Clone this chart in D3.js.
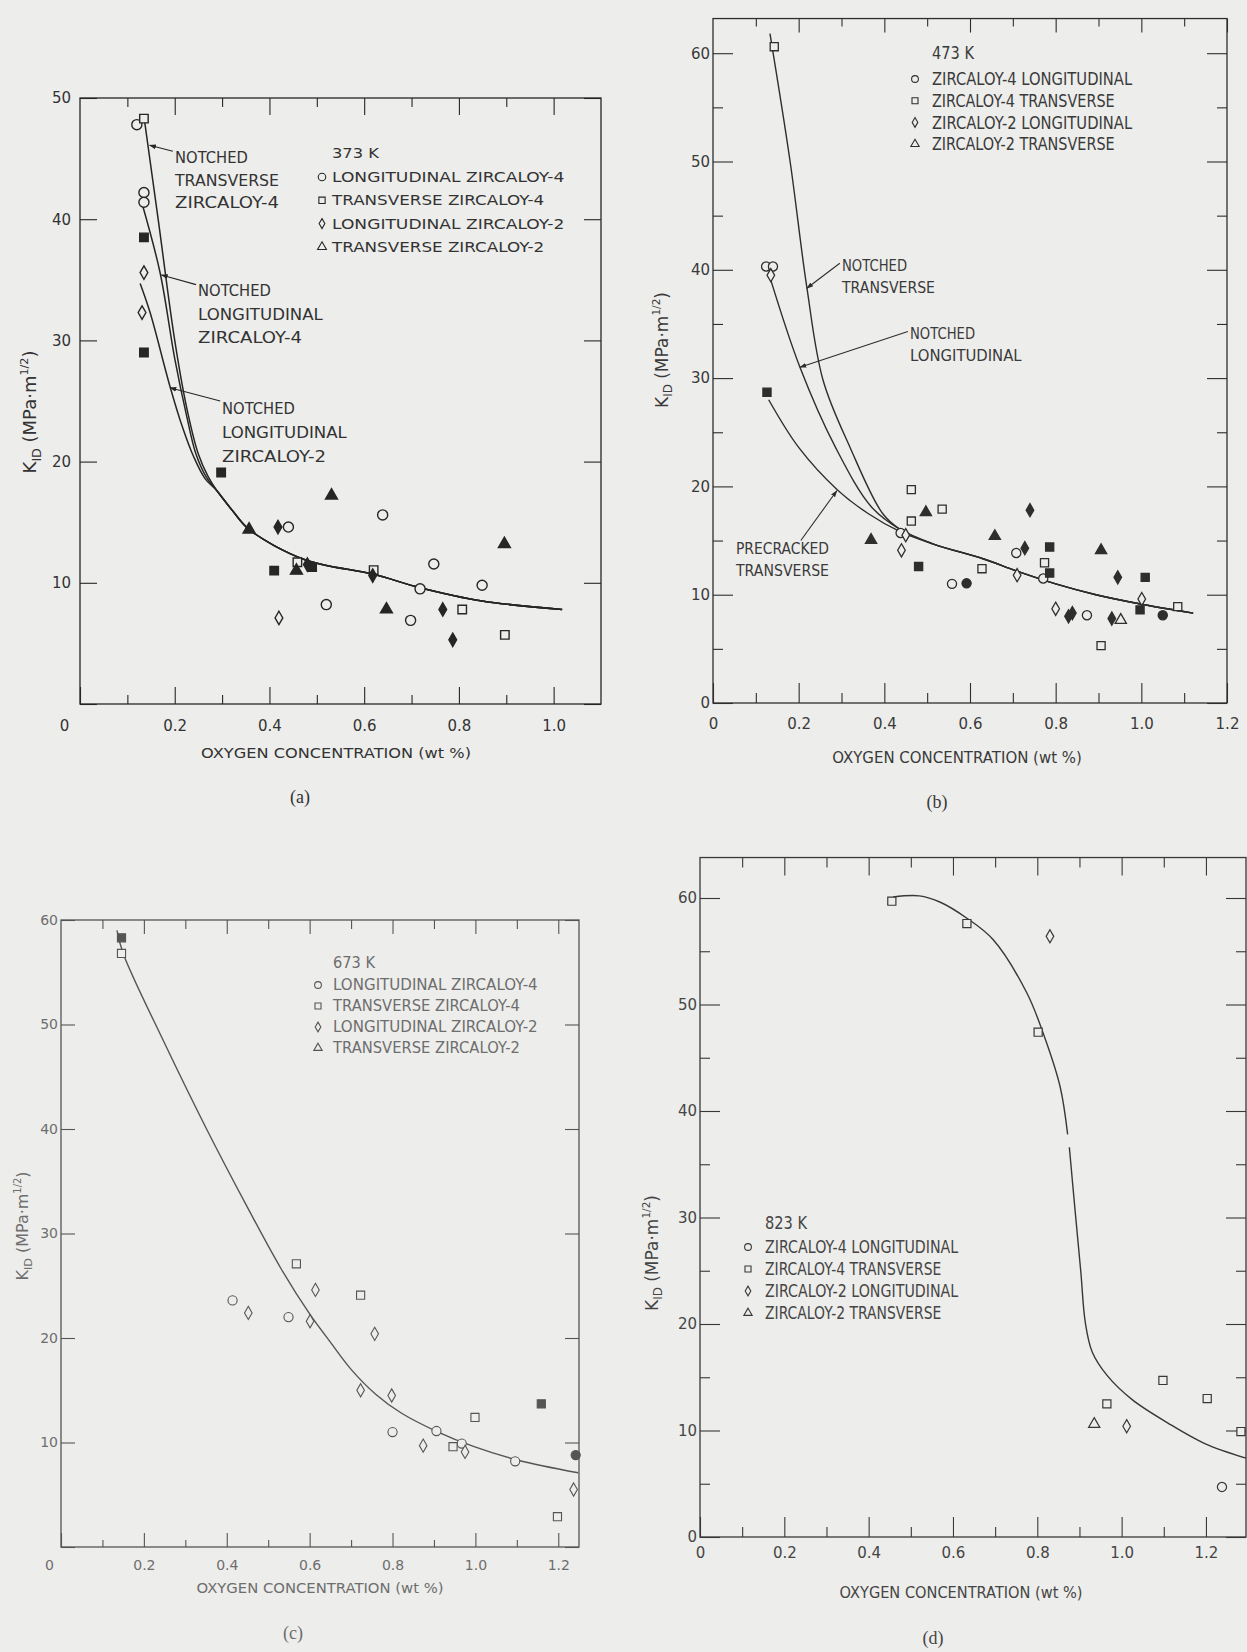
<!DOCTYPE html>
<html>
<head>
<meta charset="utf-8">
<script src="https://cdn.jsdelivr.net/npm/d3@7"></script>
<style>
  body { margin: 0; background: #ededeb; }
  svg { display: block; }
</style>
</head>
<body>
<svg id="fig"></svg>
<script>
// ---------- data (x = oxygen wt%, y = K_ID MPa m^1/2, third value 1 = solid symbol) ----------

// (a) 373 K
const a_longZr4  = [[0.12,47.8,0],[0.135,42.2,0],[0.135,41.4,0],[0.44,14.6,0],[0.52,8.2,0],[0.639,15.6,0],[0.698,6.9,0],[0.718,9.5,0],[0.747,11.55,0],[0.849,9.8,0]];
const a_transZr4 = [[0.135,48.3,0],[0.135,38.5,1],[0.135,29.0,1],[0.298,19.1,1],[0.41,11.0,1],[0.459,11.7,0],[0.49,11.3,1],[0.62,11.05,0],[0.807,7.8,0],[0.897,5.7,0]];
const a_longZr2  = [[0.135,35.6,0],[0.131,32.3,0],[0.418,14.6,1],[0.42,7.1,0],[0.48,11.5,1],[0.618,10.6,1],[0.766,7.8,1],[0.787,5.3,1]];
const a_transZr2 = [[0.357,14.4,1],[0.457,11.0,1],[0.531,17.2,1],[0.647,7.8,1],[0.896,13.2,1]];
const a_fitNotchTransZr4 = [[0.136,48.2],[0.165,40.0],[0.2,30.0],[0.225,24.5],[0.25,20.6],[0.27,18.8]];
const a_fitNotchLongZr4  = [[0.131,41.3],[0.169,35.6],[0.2,28.5],[0.225,23.8],[0.245,20.6],[0.267,18.7]];
const a_fitNotchLongZr2  = [[0.127,34.7],[0.148,32.3],[0.19,26.2],[0.215,23.0],[0.24,20.4],[0.264,18.6]];
const a_fitTail = [[0.289,17.6],[0.323,15.9],[0.357,14.4],[0.475,11.9],[0.62,10.7],[0.718,9.6],[0.849,8.5],[1.018,7.8]];

// (b) 473 K
const b_longZr4  = [[0.124,40.3,0],[0.14,40.3,0],[0.438,15.7,0],[0.558,11.0,0],[0.592,11.05,1],[0.708,13.85,0],[0.771,11.5,0],[0.873,8.1,0],[1.05,8.1,1]];
const b_transZr4 = [[0.143,60.6,0],[0.126,28.7,1],[0.463,19.7,0],[0.463,16.8,0],[0.535,17.9,0],[0.48,12.6,1],[0.628,12.4,0],[0.774,12.95,0],[0.786,14.4,1],[0.786,12.0,1],[0.906,5.3,0],[0.997,8.6,1],[1.009,11.6,1],[1.085,8.9,0]];
const b_longZr2  = [[0.135,39.5,0],[0.45,15.5,0],[0.44,14.1,0],[0.728,14.3,1],[0.74,17.8,1],[0.71,11.8,0],[0.8,8.7,0],[0.83,8.0,1],[0.839,8.3,1],[0.931,7.8,1],[0.945,11.6,1],[1.001,9.6,0]];
const b_transZr2 = [[0.369,15.05,1],[0.497,17.6,1],[0.658,15.4,1],[0.906,14.1,1],[0.952,7.65,0]];
const b_fitNotchTrans = [[0.133,61.8],[0.18,50.0],[0.219,38.4],[0.257,29.8],[0.32,23.6],[0.396,17.5],[0.438,16.0]];
const b_fitNotchLong  = [[0.133,39.3],[0.203,31.0],[0.286,23.6],[0.37,18.1],[0.438,16.0]];
const b_fitPrecracked = [[0.13,28.0],[0.2,23.6],[0.29,19.7],[0.362,17.5],[0.438,15.8],[0.513,14.7],[0.632,13.3],[0.708,12.2],[0.8,11.0],[0.894,10.0],[1.004,9.1],[1.121,8.3]];

// (c) 673 K
const c_longZr4  = [[0.414,23.6,0],[0.549,22.0,0],[0.8,11.0,0],[0.906,11.1,0],[0.967,9.9,0],[1.096,8.2,0],[1.242,8.8,1]];
const c_transZr4 = [[0.146,58.3,1],[0.146,56.8,0],[0.568,27.1,0],[0.723,24.1,0],[0.946,9.6,0],[0.999,12.4,0],[1.159,13.7,1],[1.198,2.9,0]];
const c_longZr2  = [[0.452,22.4,0],[0.614,24.6,0],[0.601,21.6,0],[0.757,20.4,0],[0.723,15.0,0],[0.798,14.5,0],[0.874,9.7,0],[0.975,9.1,0],[1.237,5.5,0]];
const c_transZr2 = [];
const c_fit = [[0.135,59.0],[0.15,56.8],[0.25,48.2],[0.35,40.1],[0.45,32.5],[0.53,26.7],[0.6,22.3],[0.65,19.6],[0.7,17.0],[0.76,14.6],[0.822,12.8],[0.91,11.0],[0.997,9.6],[1.103,8.3],[1.248,7.1]];

// (d) 823 K
const d_longZr4  = [[1.238,4.7,0]];
const d_transZr4 = [[0.455,59.7,0],[0.633,57.6,0],[0.802,47.4,0],[0.965,12.5,0],[1.098,14.7,0],[1.203,13.0,0],[1.283,9.9,0]];
const d_longZr2  = [[0.83,56.4,0],[1.012,10.4,0]];
const d_transZr2 = [[0.935,10.6,0]];
const d_fitUpper = [[0.458,60.1],[0.52,60.2],[0.57,59.6],[0.633,58.1],[0.695,56.1],[0.775,51.1],[0.814,47.3],[0.854,42.3],[0.872,37.8]];
const d_fitLower = [[0.876,36.6],[0.89,30.5],[0.903,25.0],[0.914,20.1],[0.93,17.4],[0.965,15.2],[1.025,12.9],[1.11,10.7],[1.196,8.8],[1.295,7.4]];

// text
const legendByOrientation = ['LONGITUDINAL ZIRCALOY-4', 'TRANSVERSE ZIRCALOY-4', 'LONGITUDINAL ZIRCALOY-2', 'TRANSVERSE ZIRCALOY-2'];
const legendByAlloy = ['ZIRCALOY-4 LONGITUDINAL', 'ZIRCALOY-4 TRANSVERSE', 'ZIRCALOY-2 LONGITUDINAL', 'ZIRCALOY-2 TRANSVERSE'];
const xTitleText = 'OXYGEN CONCENTRATION (wt %)';

// ---------- drawing ----------
const BG = '#ededeb';
const FONT = 'DejaVu Sans, Liberation Sans, sans-serif';
const SHAPES = ['circle', 'square', 'diamond', 'triangle'];
const SYMBOL = {circle: d3.symbolCircle, square: d3.symbolSquare, diamond: d3.symbolDiamond, triangle: d3.symbolTriangle};

const svg = d3.select('#fig').attr('width', 1247).attr('height', 1652);
svg.append('rect').attr('width', 1247).attr('height', 1652).attr('fill', BG);

const defs = svg.append('defs');

function addText(parent, str, x, y, o) {
    const t = parent.append('text')
        .attr('x', x).attr('y', y)
        .attr('font-family', o.family || FONT)
        .attr('font-size', o.size)
        .attr('fill', o.fill)
        .attr('text-anchor', o.anchor || 'start')
        .text(str);
    if (o.cw) t.attr('textLength', o.cw * str.length).attr('lengthAdjust', 'spacingAndGlyphs');
    return t;
}

class KidPanel {
    constructor (config, series, fits) {
        this.config = config;
        this.series = series;
        this.fits = fits;
        this.init();
        this.render();
    }

    init() {
        let self = this;
        const c = self.config;
        self.inner_height = c.ymax * c.yUnit;
        self.top = c.bottom - self.inner_height;

        self.chart = svg.append('g')
            .attr('transform', `translate(${c.left}, ${self.top})`);

        self.xscale = d3.scaleLinear().domain([0, c.xmax]).range([0, c.width]);
        self.yscale = d3.scaleLinear().domain([0, c.ymax]).range([self.inner_height, 0]);

        const id = 'arrow-' + c.id;
        defs.append('marker')
            .attr('id', id).attr('viewBox', '0 0 10 10')
            .attr('refX', 9).attr('refY', 5)
            .attr('markerWidth', 7).attr('markerHeight', 7)
            .attr('markerUnits', 'userSpaceOnUse')
            .attr('orient', 'auto')
            .append('path').attr('d', 'M0,1.5 L10,5 L0,8.5 Z').attr('fill', c.ink);
        self.arrowId = id;
    }

    render() {
        let self = this;
        const c = self.config;
        const x = self.xscale, y = self.yscale;

        const xMajor = d3.range(0, c.xmax + 1e-6, 0.2);
        const xMinor = d3.range(0.1, c.xmax - 0.02, 0.2);
        const yMajor = d3.range(0, c.ymax + 1e-6, 10);
        const yMinor = c.yMinor ? d3.range(5, c.ymax - 0.5, 10) : [];
        const fmtX = d => d === 0 ? '0' : d3.format('.1f')(d);
        const fmtY = d => (d === 0 && !c.yZero) ? '' : d3.format('d')(d);

        const style = g => {
            g.select('.domain').remove();
            g.attr('color', c.ink).attr('font-family', FONT).attr('font-size', c.tickFont);
            g.selectAll('line').attr('stroke-width', 1.1);
            g.selectAll('text').attr('fill', c.txt);
        };

        // bottom
        self.chart.append('g')
            .attr('transform', `translate(0, ${self.inner_height})`)
            .call(d3.axisBottom(x).tickValues(xMajor).tickSize(-c.majLen).tickPadding(c.xPad).tickFormat(fmtX))
            .call(style)
            .call(g => g.selectAll('.tick text').filter(d => d === 0).attr('dx', c.zeroDx));
        self.chart.append('g')
            .attr('transform', `translate(0, ${self.inner_height})`)
            .call(d3.axisBottom(x).tickValues(xMinor).tickSize(-c.minLen).tickFormat(''))
            .call(style);
        // top
        self.chart.append('g')
            .call(d3.axisTop(x).tickValues(xMajor.filter(d => d > 0)).tickSize(-c.topMaj).tickFormat(''))
            .call(style);
        self.chart.append('g')
            .call(d3.axisTop(x).tickValues(xMinor).tickSize(-c.topMin).tickFormat(''))
            .call(style);
        // left
        self.chart.append('g')
            .call(d3.axisLeft(y).tickValues(yMajor).tickSize(-c.majLen).tickPadding(c.yPad).tickFormat(fmtY))
            .call(style);
        self.chart.append('g')
            .call(d3.axisLeft(y).tickValues(yMinor).tickSize(-c.minLen).tickFormat(''))
            .call(style);
        // right
        self.chart.append('g')
            .attr('transform', `translate(${c.width}, 0)`)
            .call(d3.axisRight(y).tickValues(yMajor).tickSize(-c.majLen).tickFormat(''))
            .call(style);
        self.chart.append('g')
            .attr('transform', `translate(${c.width}, 0)`)
            .call(d3.axisRight(y).tickValues(yMinor).tickSize(-c.minLen).tickFormat(''))
            .call(style);

        self.chart.append('rect')
            .attr('width', c.width).attr('height', self.inner_height)
            .attr('fill', 'none').attr('stroke', c.ink).attr('stroke-width', 1.3);

        // fitted curves
        const line = d3.line()
            .x(d => x(d[0]))
            .y(d => y(d[1]))
            .curve(d3.curveCatmullRom.alpha(0.5));
        self.chart.selectAll('path.fit')
            .data(self.fits)
            .join('path')
            .attr('class', 'fit')
            .attr('d', line)
            .attr('fill', 'none')
            .attr('stroke', c.ink)
            .attr('stroke-width', c.lineWidth);

        // data symbols
        self.series.forEach((pts, i) => {
            const shape = SHAPES[i];
            const sym = d3.symbol().type(SYMBOL[shape]).size(c.marker[shape]);
            self.chart.append('g').selectAll('path')
                .data(pts)
                .join('path')
                .attr('transform', d => `translate(${x(d[0])}, ${y(d[1])})`)
                .attr('d', sym)
                .attr('fill', d => d[2] ? c.ink : BG)
                .attr('stroke', c.ink)
                .attr('stroke-width', c.mStroke);
        });

        // legend
        const L = c.legend;
        addText(svg, L.title, L.textX, L.titleY, {size: L.size, fill: c.txt, cw: L.titleCw});
        L.labels.forEach((lab, i) => {
            const cy = L.y0 + i * L.dy;
            const shape = SHAPES[i];
            svg.append('path')
                .attr('transform', `translate(${L.symX}, ${cy})`)
                .attr('d', d3.symbol().type(SYMBOL[shape]).size(c.marker[shape] * 0.55))
                .attr('fill', 'none').attr('stroke', c.ink).attr('stroke-width', 1.1);
            addText(svg, lab, L.textX, cy + L.size * 0.36, {size: L.size, fill: c.txt, cw: L.cw});
        });

        // curve labels with leaders
        (c.notes || []).forEach(n => {
            n.lines.forEach((s, k) => addText(svg, s, n.x, n.y + k * n.dy, {size: n.size, fill: c.txt, cw: n.cw}));
            self.chart.append('line')
                .attr('x1', x(n.from[0])).attr('y1', y(n.from[1]))
                .attr('x2', x(n.to[0])).attr('y2', y(n.to[1]))
                .attr('stroke', c.ink).attr('stroke-width', 1.1)
                .attr('marker-end', `url(#${self.arrowId})`);
        });

        // axis titles and caption
        const T = c.xTitle;
        addText(svg, xTitleText, T.x, T.y, {size: T.size, fill: c.txt, cw: T.cw, anchor: 'middle'});

        const Y = c.yTitle;
        const yt = svg.append('text')
            .attr('transform', `translate(${Y.x}, ${Y.y}) rotate(-90)`)
            .attr('text-anchor', 'middle')
            .attr('font-family', FONT)
            .attr('font-size', Y.size)
            .attr('fill', c.txt);
        yt.append('tspan').text('K');
        yt.append('tspan').attr('font-size', Y.size * 0.7).attr('dy', Y.size * 0.25).text('ID');
        yt.append('tspan').attr('dy', -Y.size * 0.25).text(' (MPa\u00b7m');
        yt.append('tspan').attr('font-size', Y.size * 0.62).attr('dy', -Y.size * 0.45).text('1/2');
        yt.append('tspan').attr('dy', Y.size * 0.45).text(')');

        addText(svg, c.caption.text, c.caption.x, c.caption.y,
            {size: 18, fill: c.txt, anchor: 'middle', family: 'Liberation Serif, DejaVu Serif, serif'});
    }
}

new KidPanel({
    id: 'a', left: 80, bottom: 704, width: 521, xmax: 1.1, yUnit: 12.12, ymax: 50,
    ink: '#262626', txt: '#333', majLen: 17, minLen: 9, topMaj: 17, topMin: 9, yMinor: false, yZero: false,
    tickFont: 15, xPad: 16, yPad: 9, zeroDx: -16, lineWidth: 1.5, mStroke: 1.4,
    marker: {circle: 80, square: 72, diamond: 52, triangle: 62},
    legend: {title: '373 K', titleY: 158, titleCw: 9.4, symX: 322, textX: 332, y0: 177, dy: 23.3, size: 14, cw: 10.1, labels: legendByOrientation},
    notes: [
        {lines: ['NOTCHED', 'TRANSVERSE', 'ZIRCALOY-4'], x: 175, y: 163, dy: 22.5, size: 15, cw: 10.4, from: [0.196, 45.6], to: [0.147, 46.1]},
        {lines: ['NOTCHED', 'LONGITUDINAL', 'ZIRCALOY-4'], x: 198, y: 296, dy: 23.5, size: 15, cw: 10.4, from: [0.245, 34.6], to: [0.172, 35.4]},
        {lines: ['NOTCHED', 'LONGITUDINAL', 'ZIRCALOY-2'], x: 222, y: 414, dy: 24, size: 15, cw: 10.4, from: [0.296, 25.0], to: [0.19, 26.1]}
    ],
    xTitle: {x: 336, y: 758, size: 14, cw: 10},
    yTitle: {x: 36, y: 412, size: 18},
    caption: {text: '(a)', x: 300, y: 803}
}, [a_longZr4, a_transZr4, a_longZr2, a_transZr2],
   [a_fitNotchTransZr4.concat(a_fitTail), a_fitNotchLongZr4.concat(a_fitTail), a_fitNotchLongZr2.concat(a_fitTail)]);

new KidPanel({
    id: 'b', left: 713, bottom: 703, width: 514, xmax: 1.2, yUnit: 10.83, ymax: 63.2,
    ink: '#2e2e2e', txt: '#3a3a3a', majLen: 20, minLen: 10, topMaj: 14, topMin: 8, yMinor: true, yZero: true,
    tickFont: 15, xPad: 15, yPad: 3, zeroDx: 0, lineWidth: 1.4, mStroke: 1.3,
    marker: {circle: 66, square: 66, diamond: 50, triangle: 55},
    legend: {title: '473 K', titleY: 59, titleCw: 8.4, symX: 915, textX: 932, y0: 79, dy: 21.7, size: 17, cw: 8.7, labels: legendByAlloy},
    notes: [
        {lines: ['NOTCHED', 'TRANSVERSE'], x: 842, y: 271, dy: 22, size: 16, cw: 9.3, from: [0.296, 40.6], to: [0.219, 38.3]},
        {lines: ['NOTCHED', 'LONGITUDINAL'], x: 910, y: 339, dy: 22, size: 16, cw: 9.3, from: [0.455, 34.3], to: [0.203, 31.0]},
        {lines: ['PRECRACKED', 'TRANSVERSE'], x: 736, y: 554, dy: 22, size: 16, cw: 9.3, from: [0.205, 15.0], to: [0.289, 19.6]}
    ],
    xTitle: {x: 957, y: 763, size: 15, cw: 9.25},
    yTitle: {x: 668, y: 350, size: 17},
    caption: {text: '(b)', x: 937, y: 808}
}, [b_longZr4, b_transZr4, b_longZr2, b_transZr2],
   [b_fitNotchTrans.concat(b_fitPrecracked.filter(p => p[0] > 0.45)),
    b_fitNotchLong.concat(b_fitPrecracked.filter(p => p[0] > 0.45)),
    b_fitPrecracked]);

new KidPanel({
    id: 'c', left: 61, bottom: 1547, width: 518, xmax: 1.25, yUnit: 10.45, ymax: 60,
    ink: '#555', txt: '#6e6e6e', majLen: 14, minLen: 7, topMaj: 14, topMin: 9, yMinor: false, yZero: false,
    tickFont: 14, xPad: 13, yPad: 3, zeroDx: -12, lineWidth: 1.4, mStroke: 1.1,
    marker: {circle: 66, square: 66, diamond: 50, triangle: 55},
    legend: {title: '673 K', titleY: 968, titleCw: 8.4, symX: 318, textX: 333, y0: 985, dy: 21, size: 15, cw: 8.9, labels: legendByOrientation},
    notes: [],
    xTitle: {x: 320, y: 1593, size: 14, cw: 9.15},
    yTitle: {x: 28, y: 1226, size: 16},
    caption: {text: '(c)', x: 293, y: 1639}
}, [c_longZr4, c_transZr4, c_longZr2, c_transZr2], [c_fit]);

new KidPanel({
    id: 'd', left: 700, bottom: 1537, width: 546, xmax: 1.295, yUnit: 10.65, ymax: 63.8,
    ink: '#383838', txt: '#454545', majLen: 20, minLen: 10, topMaj: 18, topMin: 10, yMinor: true, yZero: true,
    tickFont: 15, xPad: 10, yPad: 3, zeroDx: 0, lineWidth: 1.4, mStroke: 1.2,
    marker: {circle: 66, square: 66, diamond: 50, triangle: 55},
    legend: {title: '823 K', titleY: 1229, titleCw: 8.4, symX: 748, textX: 765, y0: 1247, dy: 22, size: 17, cw: 8.4, labels: legendByAlloy},
    notes: [],
    xTitle: {x: 961, y: 1598, size: 15, cw: 9.0},
    yTitle: {x: 658, y: 1253, size: 17},
    caption: {text: '(d)', x: 933, y: 1644}
}, [d_longZr4, d_transZr4, d_longZr2, d_transZr2], [d_fitUpper, d_fitLower]);
</script>
</body>
</html>
